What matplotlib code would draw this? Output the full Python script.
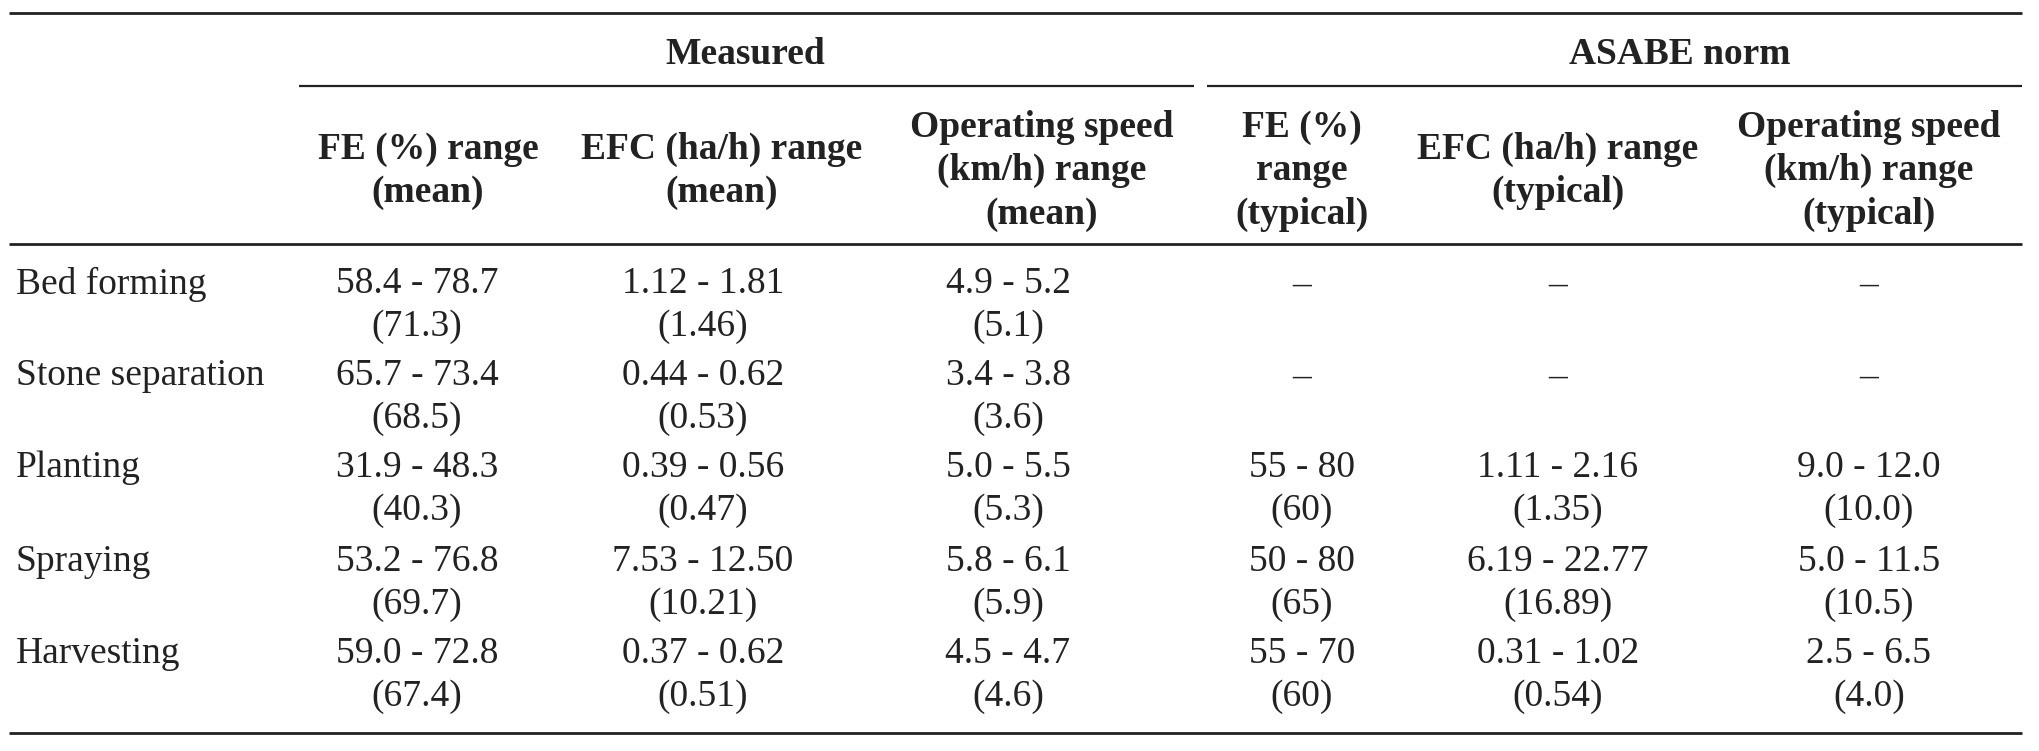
import matplotlib
matplotlib.use("Agg")
import matplotlib.pyplot as plt

# Table content
operations = ["Bed forming", "Stone separation", "Planting", "Spraying", "Harvesting"]

group_titles = ["Measured", "ASABE norm"]

col_headers = [
    "FE (%) range\n(mean)",
    "EFC (ha/h) range\n(mean)",
    "Operating speed\n(km/h) range\n(mean)",
    "FE (%)\nrange\n(typical)",
    "EFC (ha/h) range\n(typical)",
    "Operating speed\n(km/h) range\n(typical)",
]

fe_measured = ["58.4 - 78.7\n(71.3)", "65.7 - 73.4\n(68.5)", "31.9 - 48.3\n(40.3)",
               "53.2 - 76.8\n(69.7)", "59.0 - 72.8\n(67.4)"]
efc_measured = ["1.12 - 1.81\n(1.46)", "0.44 - 0.62\n(0.53)", "0.39 - 0.56\n(0.47)",
                "7.53 - 12.50\n(10.21)", "0.37 - 0.62\n(0.51)"]
speed_measured = ["4.9 - 5.2\n(5.1)", "3.4 - 3.8\n(3.6)", "5.0 - 5.5\n(5.3)",
                  "5.8 - 6.1\n(5.9)", "4.5 - 4.7\n(4.6)"]
fe_asabe = ["–", "–", "55 - 80\n(60)", "50 - 80\n(65)", "55 - 70\n(60)"]
efc_asabe = ["–", "–", "1.11 - 2.16\n(1.35)", "6.19 - 22.77\n(16.89)", "0.31 - 1.02\n(0.54)"]
speed_asabe = ["–", "–", "9.0 - 12.0\n(10.0)", "5.0 - 11.5\n(10.5)", "2.5 - 6.5\n(4.0)"]

columns = [fe_measured, efc_measured, speed_measured, fe_asabe, efc_asabe, speed_asabe]

# layout (pixel coordinates)
W, H = 2039, 751
col_x = [417, 703, 1008, 1302, 1558, 1869]
head_x = [428, 722, 1042, 1302, 1558, 1869]
row_y = [284, 376, 468, 562, 654]
line_gap = 43
label_x = 16
fs = 27
ink = "#222222"

plt.rcParams["font.family"] = ["Liberation Serif", "DejaVu Serif"]

fig = plt.figure(figsize=(W / 100, H / 100), dpi=100)
ax = fig.add_axes([0, 0, 1, 1])
ax.set_xlim(0, W)
ax.set_ylim(H, 0)
ax.axis("off")

# rules
ax.plot([9, 2022], [13, 13], color=ink, lw=2.0, solid_capstyle="butt")
ax.plot([299, 1194], [86, 86], color=ink, lw=1.6, solid_capstyle="butt")
ax.plot([1207, 2022], [86, 86], color=ink, lw=1.6, solid_capstyle="butt")
ax.plot([9, 2022], [244, 244], color=ink, lw=2.0, solid_capstyle="butt")
ax.plot([9, 2022], [733, 733], color=ink, lw=2.0, solid_capstyle="butt")

# group titles
ax.text(745, 54, group_titles[0], ha="center", va="center", fontsize=fs,
        fontweight="bold", color=ink)
ax.text(1680, 54, group_titles[1], ha="center", va="center", fontsize=fs,
        fontweight="bold", color=ink)

# column headers
for x, h in zip(head_x, col_headers):
    ax.text(x, 171, h, ha="center", va="center", fontsize=fs, fontweight="bold",
            color=ink, linespacing=1.32, multialignment="center")

# body
for i, op in enumerate(operations):
    y = row_y[i]
    ax.text(label_x, y, op, ha="left", va="center", fontsize=fs, color=ink)
    for x, col in zip(col_x, columns):
        parts = col[i].split("\n")
        for k, p in enumerate(parts):
            ax.text(x, y + k * line_gap, p, ha="center", va="center",
                    fontsize=fs, color=ink)

fig.savefig("out.png", dpi=100, facecolor="white")
